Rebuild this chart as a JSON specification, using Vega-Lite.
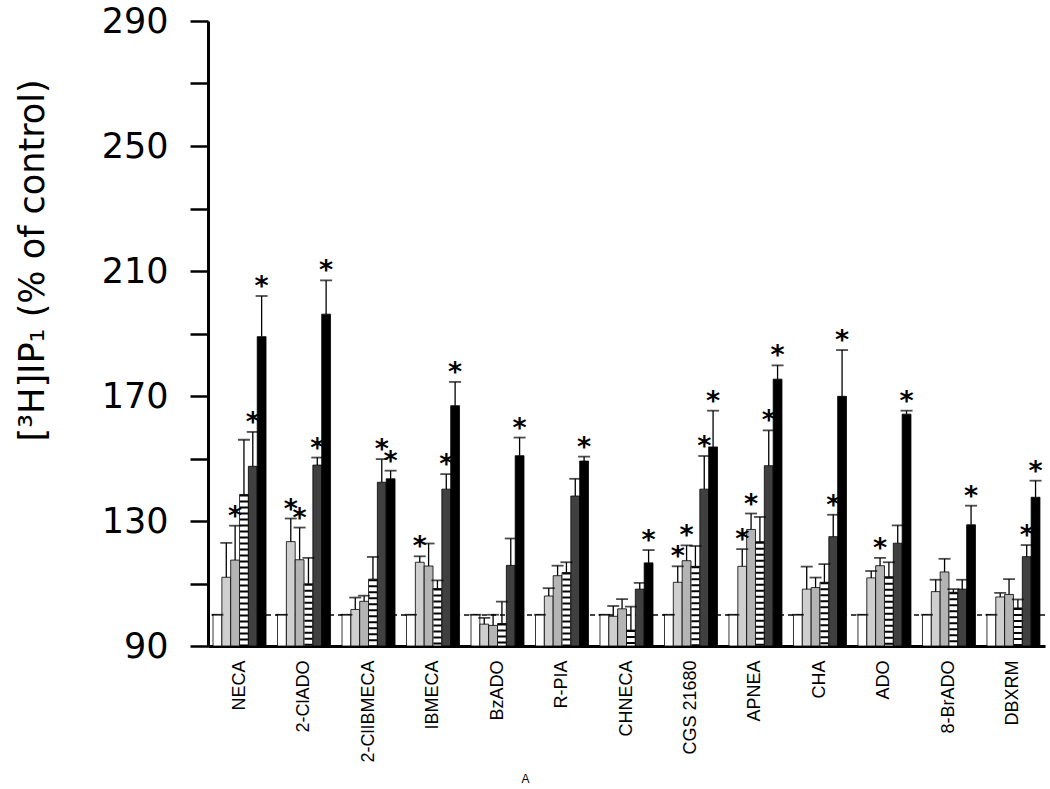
{
  "$schema": "https://vega.github.io/schema/vega-lite/v6.json",
  "autosize": {"type": "none"},
  "padding": {"left": 208, "top": 21, "right": 5, "bottom": 143},
  "width": 837,
  "height": 625,
  "background": "white",
  "config": {"view": {"stroke": null}, "font": "Liberation Sans"},
  "data": {"values": [
    {"c":"NECA","t":"a","v":100,"e":100,"s":0},
    {"c":"NECA","t":"b","v":112,"e":123,"s":0},
    {"c":"NECA","t":"c","v":117.5,"e":128.5,"s":1},
    {"c":"NECA","t":"d","v":138.5,"e":156,"s":0},
    {"c":"NECA","t":"e","v":147.5,"e":158.5,"s":1},
    {"c":"NECA","t":"f","v":189,"e":202,"s":1},
    {"c":"2-ClADO","t":"a","v":100,"e":100,"s":0},
    {"c":"2-ClADO","t":"b","v":123.4,"e":130.8,"s":1},
    {"c":"2-ClADO","t":"c","v":117.6,"e":127.9,"s":1},
    {"c":"2-ClADO","t":"d","v":109.9,"e":118.2,"s":0},
    {"c":"2-ClADO","t":"e","v":147.9,"e":150.3,"s":1},
    {"c":"2-ClADO","t":"f","v":196.2,"e":207,"s":1},
    {"c":"2-ClIBMECA","t":"a","v":100,"e":100,"s":0},
    {"c":"2-ClIBMECA","t":"b","v":101.7,"e":105.5,"s":0},
    {"c":"2-ClIBMECA","t":"c","v":104.3,"e":106.1,"s":0},
    {"c":"2-ClIBMECA","t":"d","v":111.4,"e":118.5,"s":0},
    {"c":"2-ClIBMECA","t":"e","v":142.4,"e":149.8,"s":1},
    {"c":"2-ClIBMECA","t":"f","v":143.5,"e":146.1,"s":1},
    {"c":"IBMECA","t":"a","v":100,"e":100,"s":0},
    {"c":"IBMECA","t":"b","v":116.8,"e":118.7,"s":1},
    {"c":"IBMECA","t":"c","v":115.6,"e":122.8,"s":0},
    {"c":"IBMECA","t":"d","v":108.4,"e":111,"s":0},
    {"c":"IBMECA","t":"e","v":140.2,"e":145,"s":1},
    {"c":"IBMECA","t":"f","v":166.9,"e":174.5,"s":1},
    {"c":"BzADO","t":"a","v":100,"e":100,"s":0},
    {"c":"BzADO","t":"b","v":97,"e":99,"s":0},
    {"c":"BzADO","t":"c","v":96.6,"e":100,"s":0},
    {"c":"BzADO","t":"d","v":97.2,"e":104.2,"s":0},
    {"c":"BzADO","t":"e","v":115.8,"e":124.4,"s":0},
    {"c":"BzADO","t":"f","v":150.9,"e":156.7,"s":1},
    {"c":"R-PIA","t":"a","v":100,"e":100,"s":0},
    {"c":"R-PIA","t":"b","v":106,"e":108.5,"s":0},
    {"c":"R-PIA","t":"c","v":112.5,"e":115.7,"s":0},
    {"c":"R-PIA","t":"d","v":113.5,"e":116.8,"s":0},
    {"c":"R-PIA","t":"e","v":138,"e":143.5,"s":0},
    {"c":"R-PIA","t":"f","v":149.2,"e":150.6,"s":1},
    {"c":"CHNECA","t":"a","v":100,"e":100,"s":0},
    {"c":"CHNECA","t":"b","v":99.5,"e":102.8,"s":0},
    {"c":"CHNECA","t":"c","v":101.9,"e":105,"s":0},
    {"c":"CHNECA","t":"d","v":95.1,"e":102.6,"s":0},
    {"c":"CHNECA","t":"e","v":108.2,"e":110.2,"s":0},
    {"c":"CHNECA","t":"f","v":116.6,"e":120.7,"s":1},
    {"c":"CGS 21680","t":"a","v":100,"e":100,"s":0},
    {"c":"CGS 21680","t":"b","v":110.4,"e":115.5,"s":1},
    {"c":"CGS 21680","t":"c","v":117.3,"e":122.2,"s":1},
    {"c":"CGS 21680","t":"d","v":115.5,"e":122,"s":0},
    {"c":"CGS 21680","t":"e","v":140.2,"e":150.8,"s":1},
    {"c":"CGS 21680","t":"f","v":153.7,"e":165.3,"s":1},
    {"c":"APNEA","t":"a","v":100,"e":100,"s":0},
    {"c":"APNEA","t":"b","v":115.5,"e":121,"s":1},
    {"c":"APNEA","t":"c","v":127.3,"e":132.4,"s":1},
    {"c":"APNEA","t":"d","v":123.4,"e":131.3,"s":0},
    {"c":"APNEA","t":"e","v":147.7,"e":159,"s":1},
    {"c":"APNEA","t":"f","v":175.4,"e":179.8,"s":1},
    {"c":"CHA","t":"a","v":100,"e":100,"s":0},
    {"c":"CHA","t":"b","v":108.2,"e":115.4,"s":0},
    {"c":"CHA","t":"c","v":108.7,"e":111.9,"s":0},
    {"c":"CHA","t":"d","v":110.4,"e":116.2,"s":0},
    {"c":"CHA","t":"e","v":125,"e":132,"s":1},
    {"c":"CHA","t":"f","v":169.9,"e":184.7,"s":1},
    {"c":"ADO","t":"a","v":100,"e":100,"s":0},
    {"c":"ADO","t":"b","v":111.8,"e":114,"s":0},
    {"c":"ADO","t":"c","v":115.7,"e":118.2,"s":1},
    {"c":"ADO","t":"d","v":112.2,"e":116.8,"s":0},
    {"c":"ADO","t":"e","v":122.9,"e":128.6,"s":0},
    {"c":"ADO","t":"f","v":164.2,"e":165.3,"s":1},
    {"c":"8-BrADO","t":"a","v":100,"e":100,"s":0},
    {"c":"8-BrADO","t":"b","v":107.4,"e":111.2,"s":0},
    {"c":"8-BrADO","t":"c","v":113.7,"e":117.9,"s":0},
    {"c":"8-BrADO","t":"d","v":107.2,"e":108.2,"s":0},
    {"c":"8-BrADO","t":"e","v":108.2,"e":111.2,"s":0},
    {"c":"8-BrADO","t":"f","v":128.8,"e":134.9,"s":1},
    {"c":"DBXRM","t":"a","v":100,"e":100,"s":0},
    {"c":"DBXRM","t":"b","v":105.7,"e":107,"s":0},
    {"c":"DBXRM","t":"c","v":106.5,"e":111.4,"s":0},
    {"c":"DBXRM","t":"d","v":102.2,"e":104.9,"s":0},
    {"c":"DBXRM","t":"e","v":118.6,"e":122.3,"s":1},
    {"c":"DBXRM","t":"f","v":137.6,"e":142.9,"s":1}
  ]},
  "encoding": {
    "x": {
      "field": "c", "type": "nominal", "sort": null,
      "scale": {"paddingInner": 0.178, "paddingOuter": 0.078},
      "axis": {
        "title": "A", "titleFontSize": 12, "titleFont": "Liberation Sans", "titleFontWeight": "normal",
        "titleX": 317, "titleY": 139, "titleBaseline": "bottom",
        "domainWidth": 3, "domainColor": "black", "ticks": false,
        "labelAngle": 270, "labelAlign": "right", "labelBaseline": "middle",
        "labelFontSize": 18, "labelPadding": 14, "labelColor": "black"
      }
    },
    "xOffset": {"field": "t", "type": "nominal", "scale": {"paddingInner": 0, "paddingOuter": 0}}
  },
  "layer": [
    {
      "mark": {"type": "rule", "strokeDash": [5, 4], "color": "#444", "strokeWidth": 1},
      "encoding": {"y": {"datum": 100, "type": "quantitative"}, "x": null, "xOffset": null}
    },
    {
      "mark": {"type": "bar", "stroke": "black", "strokeWidth": 0.8},
      "encoding": {
        "y": {
          "field": "v", "type": "quantitative",
          "scale": {"domain": [90, 290], "nice": false, "zero": false},
          "axis": {
            "title": "[³H]IP₁  (% of control)",
            "titleFont": "DejaVu Sans", "titleFontSize": 35, "titleFontWeight": "normal",
            "titleAngle": -90, "titleX": -176, "titleY": 239, "titleAlign": "center", "titleBaseline": "middle",
            "values": [90, 110, 130, 150, 170, 190, 210, 230, 250, 270, 290],
            "labelExpr": "(datum.value - 90) % 40 == 0 ? datum.label : ''",
            "labelFont": "DejaVu Sans", "labelFontSize": 35, "labelPadding": 22, "labelColor": "black",
            "domainWidth": 3, "domainColor": "black",
            "tickSize": 18, "tickWidth": 2.5, "tickColor": "black",
            "grid": false
          }
        },
        "y2": {"datum": 90},
        "fill": {
          "field": "t", "type": "nominal", "legend": null,
          "scale": {"domain": ["a", "b", "c", "d", "e", "f"], "range": ["#ffffff", "#cfcfcf", "#b4b4b4", "#ffffff", "#404040", "#000000"]}
        }
      }
    },
    {
      "transform": [{"filter": "datum.t == 'd'"}],
      "mark": {"type": "rule", "strokeWidth": 8, "strokeDash": [2, 4], "color": "black"},
      "encoding": {"y": {"field": "v", "type": "quantitative"}, "y2": {"datum": 90}}
    },
    {
      "mark": {"type": "rule", "strokeWidth": 1.3, "color": "black"},
      "encoding": {"y": {"field": "v", "type": "quantitative"}, "y2": {"field": "e"}}
    },
    {
      "mark": {"type": "tick", "orient": "horizontal", "size": 12, "thickness": 1.8, "color": "black"},
      "encoding": {"y": {"field": "e", "type": "quantitative"}}
    },
    {
      "transform": [{"filter": "datum.s == 1"}],
      "mark": {"type": "text", "text": "*", "font": "DejaVu Sans", "fontSize": 27, "fontWeight": "bold", "baseline": "alphabetic", "dy": -1, "color": "black"},
      "encoding": {"y": {"field": "e", "type": "quantitative"}}
    }
  ]
}
